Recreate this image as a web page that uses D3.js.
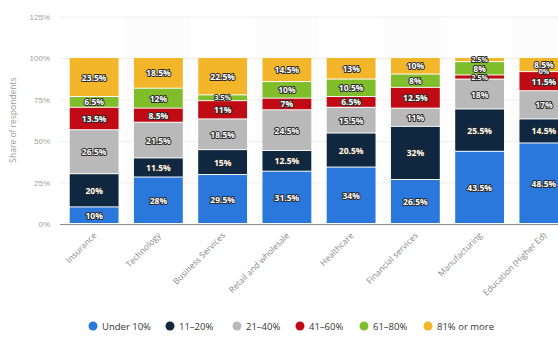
<!DOCTYPE html>
<html>
<head>
<meta charset="utf-8">
<script src="https://cdn.jsdelivr.net/npm/d3@7"></script>
<style>
  body { margin: 0; background: #fff; }
  svg { display: block; font-family: "Open Sans", sans-serif; }
</style>
</head>
<body>
<div id="root"></div>
<script>
var categories = ["Insurance", "Technology", "Business Services", "Retail and wholesale",
  "Healthcare", "Financial services", "Manufacturing", "Education (Higher Ed)"];
var seriesNames = ["Under 10%", "11–20%", "21–40%", "41–60%", "61–80%", "81% or more"];
var under10 = [10, 28, 29.5, 31.5, 34, 26.5, 43.5, 48.5];
var from11to20 = [20, 11.5, 15, 12.5, 20.5, 32, 25.5, 14.5];
var from21to40 = [26.5, 21.5, 18.5, 24.5, 15.5, 11, 18, 17];
var from41to60 = [13.5, 8.5, 11, 7, 6.5, 12.5, 2.5, 11.5];
var from61to80 = [6.5, 12, 3.5, 10, 10.5, 8, 8, 0];
var over81 = [23.5, 18.5, 22.5, 14.5, 13, 10, 2.5, 8.5];
var yTicks = [0, 25, 50, 75, 100, 125];
var colors = ["#2a78dc", "#0f2840", "#b9b9b9", "#c00a14", "#80bd2b", "#f3b52a"];

var width = 558;
var height = 342;

var svg = d3
  .select("#root")
  .append("svg")
  .attr("width", width)
  .attr("height", height);

var allSeries = [under10, from11to20, from21to40, from41to60, from61to80, over81];
var rows = categories.map((c, i) => {
  var row = { cat: c };
  seriesNames.forEach((s, j) => (row[s] = allSeries[j][i]));
  return row;
});
var stacked = d3.stack().keys(seriesNames)(rows);

var xScale = d3.scaleBand().domain(categories).range([62, 576]).paddingInner(0.24).paddingOuter(0.12);
var bandX = d3.scaleBand().domain(categories).range([62, 576]);
var yScale = d3.scaleLinear().domain([0, 125]).range([224, 16.5]);

// faint alternating column bands
svg
  .selectAll(".band")
  .data(categories.filter((d, i) => i % 2 == 1))
  .enter()
  .append("rect")
  .attr("x", (d) => bandX(d))
  .attr("y", yScale(125))
  .attr("width", bandX.bandwidth())
  .attr("height", yScale(0) - yScale(125))
  .attr("fill", "#fcfcfc");

// gridlines + y axis
var yAxis = d3.axisLeft(yScale).tickValues(yTicks).tickFormat((d) => d + "%").tickSize(-(width - 60));
var gy = svg.append("g").attr("transform", "translate(60,0)").call(yAxis);
gy.select(".domain").remove();
gy.selectAll(".tick line").attr("stroke", "#efefef");
gy.selectAll(".tick text")
  .attr("x", -10)
  .attr("fill", "#a0a0a0")
  .attr("font-size", 8);

svg
  .append("text")
  .attr("transform", "translate(16,120) rotate(-90)")
  .attr("text-anchor", "middle")
  .attr("font-size", 8.5)
  .attr("fill", "#9a9a9a")
  .text("Share of respondents");

// bars
var layers = svg
  .selectAll(".layer")
  .data(stacked)
  .enter()
  .append("g")
  .attr("fill", (d, i) => colors[i]);

layers
  .selectAll("rect")
  .data((d) => d)
  .enter()
  .append("rect")
  .attr("x", (d) => xScale(d.data.cat))
  .attr("y", (d) => yScale(d[1]))
  .attr("width", xScale.bandwidth())
  .attr("height", (d) => Math.max(0, yScale(d[0]) - yScale(d[1]) - 1));

// value labels (smaller where the segment is thin)
stacked.forEach((layer) => {
  svg
    .append("g")
    .selectAll("text")
    .data(layer)
    .enter()
    .append("text")
    .attr("x", (d) => xScale(d.data.cat) + xScale.bandwidth() / 2)
    .attr("y", (d) => (yScale(d[0]) + yScale(d[1])) / 2 + (d[1] - d[0] < 4 ? 2.2 : 3))
    .attr("text-anchor", "middle")
    .attr("font-size", (d) => (d[1] - d[0] < 4 ? 7 : 8.5))
    .attr("font-weight", "bold")
    .attr("fill", "#fff")
    .attr("stroke", "#2a2a2a")
    .attr("stroke-width", 2)
    .attr("stroke-linejoin", "round")
    .attr("paint-order", "stroke")
    .text((d) => (d[1] - d[0]) + "%");
});

// x axis
svg
  .append("line")
  .attr("x1", 60)
  .attr("x2", width)
  .attr("y1", yScale(0) + 0.5)
  .attr("y2", yScale(0) + 0.5)
  .attr("stroke", "#8c8c8c");

svg
  .append("g")
  .selectAll("text")
  .data(categories)
  .enter()
  .append("text")
  .attr("transform", (d) => "translate(" + (xScale(d) + xScale.bandwidth() / 2 + 3) + ",236) rotate(-45)")
  .attr("text-anchor", "end")
  .attr("font-size", 8.5)
  .attr("fill", "#8a8a8a")
  .text((d) => d);

// legend
var legendX = [93, 170, 237, 300, 364, 428];
var legend = svg
  .selectAll(".legend-item")
  .data(seriesNames)
  .enter()
  .append("g")
  .attr("transform", (d, i) => "translate(" + legendX[i] + ",326)");
legend
  .append("circle")
  .attr("r", 4.5)
  .attr("fill", (d, i) => colors[i]);
legend
  .append("text")
  .attr("x", 9)
  .attr("y", 3.5)
  .attr("font-size", 9.5)
  .attr("fill", "#333")
  .text((d) => d);
</script>
</body>
</html>
